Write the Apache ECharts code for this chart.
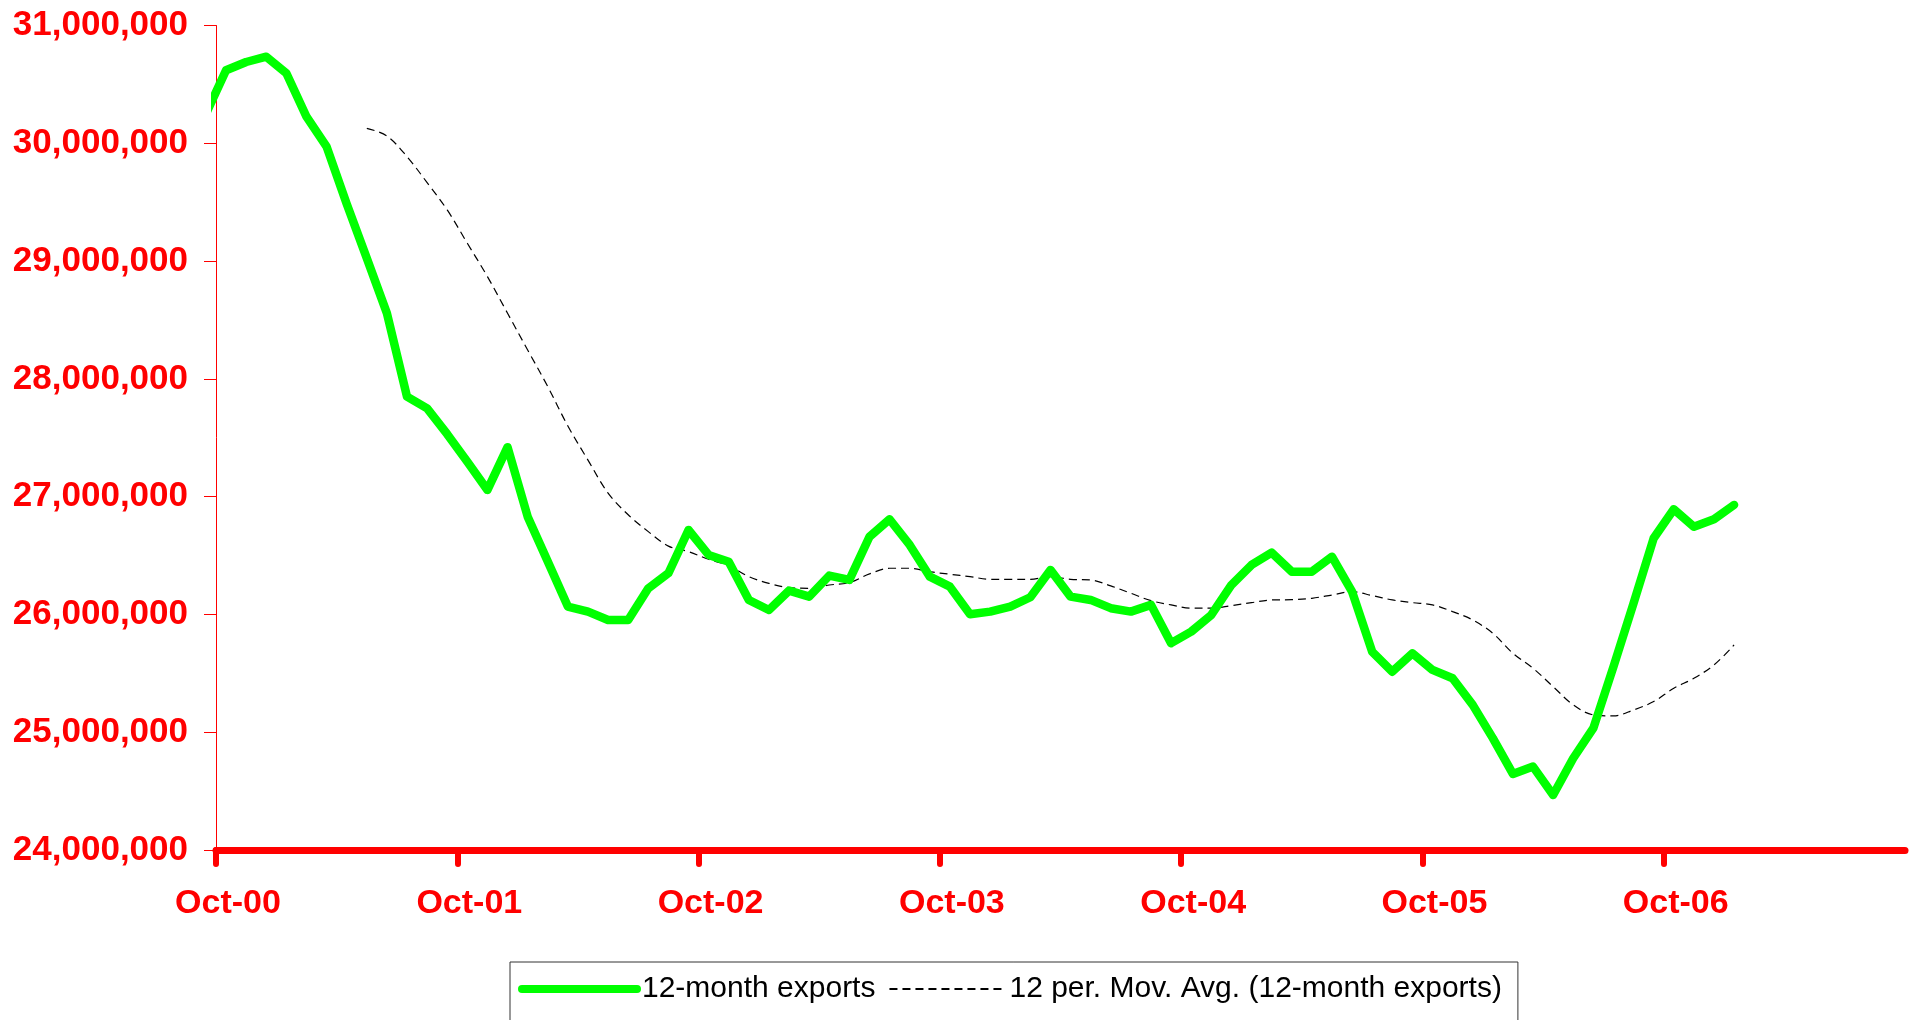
<!DOCTYPE html>
<html>
<head>
<meta charset="utf-8">
<title>12-month exports</title>
<script src="https://cdn.jsdelivr.net/npm/echarts@6/dist/echarts.min.js"></script>
<style>
    html, body { margin: 0; padding: 0; background: #fff; }
    #main { width: 1917px; height: 1020px; }
</style>
</head>
<body>
<div id="main"></div>
<script>
// tick labels of the date axis (one every 12 months)
var xLabels = ['Oct-00', 'Oct-01', 'Oct-02', 'Oct-03', 'Oct-04', 'Oct-05', 'Oct-06'];

// 12-month exports, monthly, first value is Sep-00 (clipped by the axis)
var exportsStart = -1;
var exportsData = [
    30250000,
    30620000, 30690000, 30735000, 30594000, 30226000, 29971000, 29485000, 29024000, 28557000, 27849000, 27750000, 27530000,
    27297000, 27057000, 27420000, 26830000, 26450000, 26067000, 26024000, 25953000, 25953000, 26222000, 26350000, 26717000,
    26505000, 26448000, 26123000, 26038000, 26202000, 26151000, 26330000, 26293000, 26660000, 26808000, 26590000, 26321000,
    26236000, 26001000, 26024000, 26066000, 26146000, 26378000, 26151000, 26123000, 26053000, 26024000, 26081000, 25756000,
    25854000, 25996000, 26250000, 26420000, 26525000, 26363000, 26363000, 26490000, 26193000, 25684000, 25514000, 25670000,
    25529000, 25458000, 25232000, 24950000, 24646000, 24708000, 24467000, 24779000, 25034000, 25556000, 26095000, 26647000,
    26893000, 26745000, 26808000, 26930000
];

// 12 per. moving average, first value is May-01
var movAvgStart = 7;
var movAvgData = [
    30127000, 30062000, 29886000, 29666000, 29434000,
    29151000, 28868000, 28557000, 28245000, 27934000, 27600000, 27310000, 27030000, 26846000, 26703000, 26580000, 26533000,
    26468000, 26414000, 26321000, 26264000, 26228000, 26222000, 26250000, 26270000, 26344000, 26392000, 26392000, 26363000,
    26341000, 26321000, 26298000, 26298000, 26298000, 26321000, 26298000, 26293000, 26242000, 26180000, 26117000, 26081000,
    26053000, 26053000, 26075000, 26100000, 26123000, 26125000, 26137000, 26165000, 26193000, 26160000, 26123000, 26100000,
    26081000, 26024000, 25953000, 25840000, 25670000, 25543000, 25387000, 25232000, 25147000, 25138000, 25189000, 25260000,
    25373000, 25458000, 25571000, 25741000
];

// month index -> point in the middle of the month
function toPairs(start, values) {
    var out = [];
    for (var i = 0; i < values.length; i++) {
        out.push([start + i + 0.5, values[i]]);
    }
    return out;
}

function fmtNum(v) {
    return String(v).replace(/\B(?=(\d{3})+(?!\d))/g, ',');
}

var font = '"Liberation Sans", Arial, sans-serif';
var red = '#ff0000';

var myChart = echarts.init(document.getElementById('main'));
myChart.setOption({
    animation: false,
    backgroundColor: '#fff',
    grid: { left: 216, right: 12, top: 25.5, bottom: 170, containLabel: false },
    legend: {
        left: 510,
        top: 962,
        orient: 'horizontal',
        borderColor: '#333',
        borderWidth: 1,
        padding: [12, 16, 40, 8],
        itemGap: 13,
        itemWidth: 115,
        itemHeight: 8,
        textStyle: { fontFamily: font, fontSize: 30, color: '#000', lineHeight: 30 },
        data: [
            { name: '12-month exports', itemStyle: { opacity: 0 }, lineStyle: { width: 8, cap: 'round' } },
            { name: '12 per. Mov. Avg. (12-month exports)', itemStyle: { opacity: 0 } }
        ]
    },
    xAxis: {
        type: 'value',
        min: 0,
        max: 84,
        interval: 12,
        axisLine: { show: true, lineStyle: { color: red, width: 7, cap: 'round' } },
        axisTick: { show: true, length: 14, lineStyle: { color: red, width: 6, cap: 'round' } },
        splitLine: { show: false },
        axisLabel: {
            color: red,
            fontFamily: font,
            fontWeight: 'bold',
            fontSize: 34,
            lineHeight: 34,
            margin: 37,
            padding: [0, 0, 0, 24],
            showMaxLabel: false,
            formatter: function (v) {
                var k = Math.round(v / 12);
                return k < xLabels.length ? xLabels[k] : '';
            }
        }
    },
    yAxis: {
        type: 'value',
        min: 24000000,
        max: 31000000,
        interval: 1000000,
        axisLine: { show: true, onZero: false, lineStyle: { color: red, width: 1 } },
        axisTick: { show: true, length: 12, lineStyle: { color: red, width: 1 } },
        splitLine: { show: false },
        axisLabel: {
            color: red,
            fontFamily: font,
            fontWeight: 'bold',
            fontSize: 35,
            margin: 28,
            formatter: fmtNum
        }
    },
    series: [
        {
            name: '12-month exports',
            type: 'line',
            data: toPairs(exportsStart, exportsData),
            symbol: 'none',
            clip: true,
            color: '#00ff00',
            lineStyle: { color: '#00ff00', width: 8.5, join: 'round', cap: 'round' },
            z: 3
        },
        {
            name: '12 per. Mov. Avg. (12-month exports)',
            type: 'line',
            data: toPairs(movAvgStart, movAvgData),
            symbol: 'none',
            smooth: 0.35,
            color: '#000',
            lineStyle: { color: '#000', width: 1.2, type: [8, 5] },
            z: 2
        }
    ]
});
</script>
</body>
</html>
